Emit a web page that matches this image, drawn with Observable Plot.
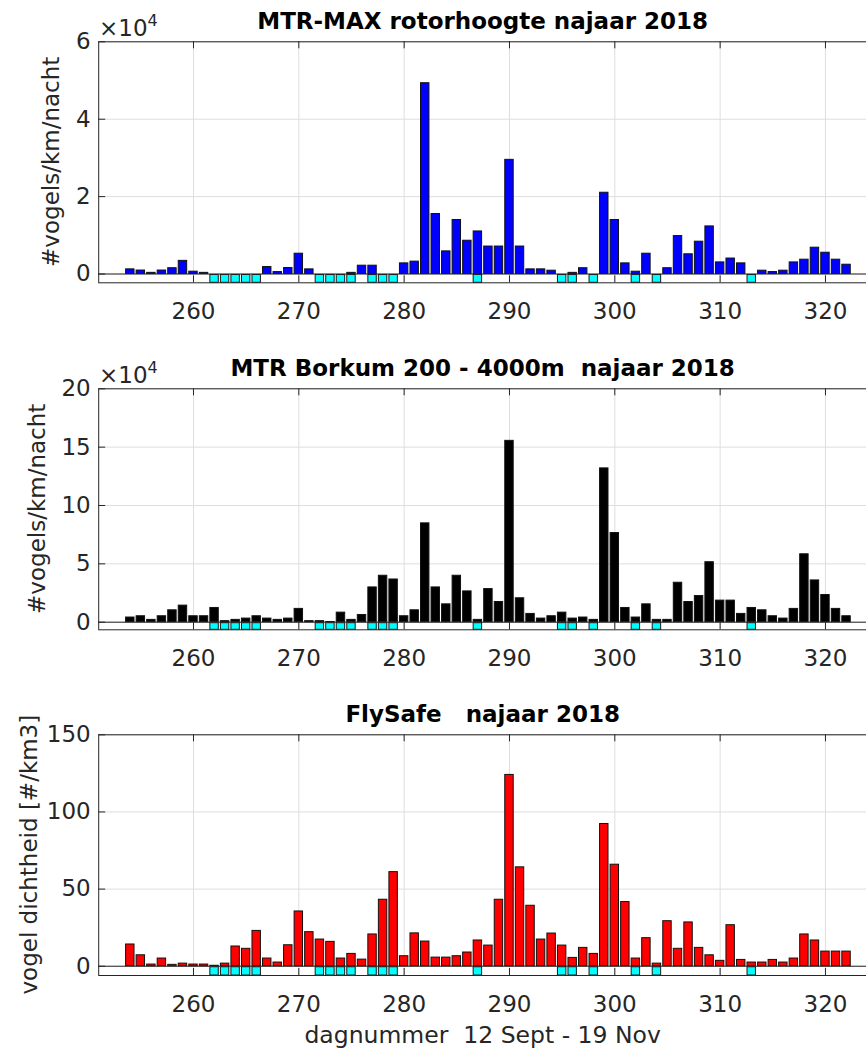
<!DOCTYPE html>
<html>
<head>
<meta charset="utf-8">
<script src="https://cdn.jsdelivr.net/npm/d3@7"></script>
<script src="https://cdn.jsdelivr.net/npm/@observablehq/plot@0.6"></script>
<style>
  body { margin: 0; background: #fff; }
  #fig { position: relative; width: 866px; height: 1055px; overflow: hidden; background: #fff; }
  #fig svg.panel { position: absolute; left: 0; }
</style>
</head>
<body>
<div id="fig"></div>
<script>
// Day numbers (day of year), autumn 2018
const days = [
  254, 255, 256, 257, 258, 259, 260, 261, 262, 263,
  264, 265, 266, 267, 268, 269, 270, 271, 272, 273,
  274, 275, 276, 277, 278, 279, 280, 281, 282, 283,
  284, 285, 286, 287, 288, 289, 290, 291, 292, 293,
  294, 295, 296, 297, 298, 299, 300, 301, 302, 303,
  304, 305, 306, 307, 308, 309, 310, 311, 312, 313,
  314, 315, 316, 317, 318, 319, 320, 321, 322
];

// MTR-MAX at rotor height (birds / km / night)
const mtrMax = [
  1200, 900, 300, 900, 1500, 3400, 600, 300, 0, 0,
  0, 0, 0, 1800, 500, 1550, 5250, 1200, 0, 0,
  0, 300, 2150, 2150, 0, 0, 2750, 3200, 49300, 15500,
  5850, 13950, 8600, 11000, 7100, 7100, 29500, 7100, 1200, 1200,
  860, 0, 300, 1500, 0, 21000, 13950, 2750, 600, 5250,
  0, 1500, 9800, 5100, 8350, 12300, 3000, 4000, 2750, 0,
  860, 500, 860, 3000, 3700, 6800, 5500, 3700, 2400
];

// MTR Borkum, 200 - 4000 m (birds / km / night)
const borkum = [
  4000, 5100, 2000, 5100, 10200, 14200, 5100, 5100, 12200, 900,
  2000, 3100, 5100, 3100, 2000, 3100, 11400, 900, 900, 200,
  8200, 2000, 6200, 29800, 39800, 36600, 5100, 10200, 84700, 29800,
  15300, 39800, 26400, 2000, 28400, 17300, 155400, 20500, 7100, 3100,
  5100, 8200, 3100, 4000, 2000, 131800, 76400, 12200, 4000, 15300,
  2000, 2000, 33800, 17300, 22400, 51400, 18500, 18500, 7100, 12200,
  10200, 5100, 3100, 11400, 58200, 35800, 23300, 11400, 5100
];

// FlySafe bird density (# / km3)
const flySafe = [
  14.1, 7.1, 1.1, 5.0, 0.9, 1.7, 1.1, 1.1, 0.3, 1.7,
  12.8, 11.3, 22.9, 5.0, 2.4, 13.6, 35.5, 22.1, 17.3, 15.8,
  5.0, 8.0, 4.3, 20.6, 43.1, 61.0, 6.5, 21.3, 16.0, 5.6,
  5.6, 6.5, 8.9, 16.7, 13.4, 43.1, 124.0, 64.1, 39.2, 17.3,
  21.2, 13.4, 5.4, 11.9, 8.0, 92.2, 65.8, 41.6, 5.0, 18.2,
  1.7, 29.2, 11.3, 28.4, 11.9, 7.1, 3.5, 26.6, 4.1, 2.4,
  2.4, 4.1, 2.4, 5.0, 20.6, 16.7, 9.5, 9.5, 9.5
];

// Nights flagged in cyan below the baseline
const flaggedDays = [262, 263, 264, 265, 266, 272, 273, 274, 275, 277, 278, 279, 287, 295, 296, 298, 302, 304, 313];

// Tick values
const dayTicks = [260, 270, 280, 290, 300, 310, 320];
const mtrMaxTicks = [0, 20000, 40000, 60000];
const borkumTicks = [0, 50000, 100000, 150000, 200000];
const flySafeTicks = [0, 50, 100, 150];

const FONT = '"DejaVu Sans", "Liberation Sans", Arial, sans-serif';
const INK = "#262626";
const GRID = "#dedede";
const W = 866;
const xDomain = [251, 324];
const marginLeft = 98.2;
const marginRight = -1.1;

const panels = [
  {
    values: mtrMax, fill: "#0000ff", yDomain: [-2270, 60000], yTicks: mtrMaxTicks,
    fmt: d => String(d / 1e4), top: 0, height: 345, boxTop: 41.3, boxBottom: 282.3,
    title: "MTR-MAX rotorhoogte najaar 2018", ylabel: "#vogels/km/nacht", ylabelX: 58.5, exponent: true
  },
  {
    values: borkum, fill: "#000000", yDomain: [-6510, 200000], yTicks: borkumTicks,
    fmt: d => String(d / 1e4), top: 345, height: 345, boxTop: 388.3, boxBottom: 629.3,
    title: "MTR Borkum 200 - 4000m  najaar 2018", ylabel: "#vogels/km/nacht", ylabelX: 45, exponent: true
  },
  {
    values: flySafe, fill: "#ff0000", yDomain: [-6, 150], yTicks: flySafeTicks,
    fmt: d => String(d), top: 690, height: 365, boxTop: 734.3, boxBottom: 975,
    title: "FlySafe   najaar 2018", ylabel: "vogel dichtheid [#/km3]", ylabelX: 36.5, exponent: false
  }
];

const fig = document.getElementById("fig");

for (const p of panels) {
  const [yMin, yMax] = p.yDomain;
  const bars = days.map((day, i) => ({day, value: p.values[i]})).filter(d => d.value > 0);
  const flagged = flaggedDays.map(day => ({day}));

  const chart = Plot.plot({
    width: W,
    height: p.height,
    marginTop: p.boxTop - p.top,
    marginBottom: p.top + p.height - p.boxBottom,
    marginLeft,
    marginRight,
    style: {fontFamily: FONT, fontSize: "23px", color: INK, background: "white", overflow: "visible"},
    x: {domain: xDomain},
    y: {domain: p.yDomain},
    marks: [
      Plot.gridX({ticks: dayTicks, stroke: GRID, strokeOpacity: 1}),
      Plot.gridY({ticks: p.yTicks, stroke: GRID, strokeOpacity: 1}),
      // flagged nights: cyan blocks between the axis floor and the baseline
      Plot.rect(flagged, {
        x1: d => d.day - 0.4, x2: d => d.day + 0.4,
        y1: () => yMin, y2: () => 0,
        fill: "#00ffff", stroke: "#1a1a1a", strokeWidth: 1, insetTop: 1
      }),
      Plot.rect(bars, {
        x1: d => d.day - 0.4, x2: d => d.day + 0.4,
        y1: () => 0, y2: d => d.value,
        fill: p.fill, stroke: "#111", strokeWidth: 1
      }),
      Plot.ruleY([0], {stroke: INK, strokeWidth: 1}),
      // inward tick marks
      Plot.ruleX(dayTicks, {y1: () => yMin, y2: () => yMin, insetBottom: 7, stroke: INK}),
      Plot.ruleX(dayTicks, {y1: () => yMax, y2: () => yMax, insetTop: 7, stroke: INK}),
      Plot.ruleY(p.yTicks, {x1: () => xDomain[0], x2: () => xDomain[0], insetLeft: 7, stroke: INK}),
      Plot.frame({stroke: INK, strokeWidth: 1}),
      Plot.axisX({ticks: dayTicks, tickSize: 0, tickPadding: 20, label: null, tickFormat: d => String(d)}),
      Plot.axisY({ticks: p.yTicks, tickSize: 0, tickPadding: 8, label: null, tickFormat: p.fmt})
    ]
  });
  chart.classList.add("panel");
  chart.style.top = p.top + "px";
  chart.style.position = "absolute";
  fig.appendChild(chart);
}

// Titles, axis labels and exponent notes
const overlay = d3.select(fig).append("svg")
  .attr("width", W).attr("height", 1055)
  .style("position", "absolute").style("left", 0).style("top", 0)
  .style("pointer-events", "none")
  .style("font-family", FONT);

const cx = (marginLeft + (W - marginRight)) / 2;

for (const p of panels) {
  overlay.append("text")
    .attr("x", cx).attr("y", p.boxTop - 12)
    .attr("text-anchor", "middle")
    .style("white-space", "pre")
    .attr("font-size", 23).attr("font-weight", "bold").attr("fill", "#000")
    .text(p.title);

  overlay.append("text")
    .attr("transform", `translate(${p.ylabelX},${(p.boxTop + p.boxBottom) / 2}) rotate(-90)`)
    .attr("text-anchor", "middle")
    .attr("font-size", 23).attr("fill", INK)
    .text(p.ylabel);

  if (p.exponent) {
    const t = overlay.append("text")
      .attr("x", 99).attr("y", p.boxTop - 5.5)
      .attr("font-size", 23).attr("fill", INK);
    t.append("tspan").text("\u00d710");
    t.append("tspan").attr("dy", -10).attr("font-size", 16).text("4");
  }
}

overlay.append("text")
  .attr("x", cx).attr("y", 1043)
  .attr("text-anchor", "middle")
  .style("white-space", "pre")
  .attr("font-size", 23.5).attr("fill", INK)
  .text("dagnummer  12 Sept - 19 Nov");
</script>
</body>
</html>
